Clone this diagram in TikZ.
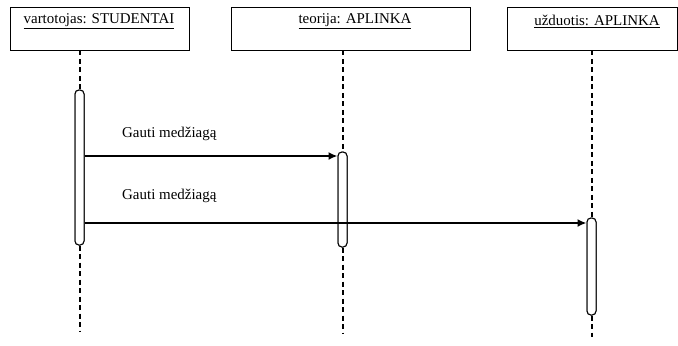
\documentclass[tikz,border=0pt]{standalone}
\usepackage{fontspec}
\setmainfont{Liberation Serif}
\usetikzlibrary{arrows.meta}
\begin{document}
\begin{tikzpicture}[x=1bp,y=-1bp,
  objbox/.style={draw, line width=0.8bp, minimum height=43bp, inner sep=0pt},
  objlabel/.style={inner sep=0pt, font=\fontsize{15}{18}\selectfont},
  msglabel/.style={inner sep=0pt, anchor=west, font=\fontsize{15}{18}\selectfont},
  lifeline/.style={line width=2bp, dash pattern=on 5bp off 3.5bp},
  act/.style={draw, fill=white, line width=1bp, minimum width=9bp, inner sep=0pt, rounded corners=4bp},
  msg/.style={line width=1.8bp, -{Latex[length=9bp,width=8bp]}}]
\useasboundingbox (0,0) rectangle (678,345);

% object boxes with their underlined names
\node[objbox, minimum width=179bp] (b1) at (99.5,28.5) {};
\node[objbox, minimum width=239bp] (b2) at (350.5,28.5) {};
\node[objbox, minimum width=170bp] (b3) at (592,28.5) {};
\node[objlabel] (t1) at (99,21) {\underline{vartotojas: STUDENTAI}};
\node[objlabel] (t2) at (355,21) {\underline{teorija: APLINKA}};
\node[objlabel] (t3) at (597,21) {\underline{užduotis: APLINKA}};

% activation bars
\node[act, minimum height=155bp] (a1) at (79.5,167.5) {};
\node[act, minimum height=95bp] (a2) at (342.5,199.5) {};
\node[act, minimum height=97bp] (a3) at (591.5,266.5) {};

% lifeline ends
\coordinate (e1) at (79.5,332);
\coordinate (e2) at (342.5,333);
\coordinate (e3) at (591.5,337);

% lifelines
\draw[lifeline] (b1.south -| a1) -- (a1.north);
\draw[lifeline] (a1.south) -- (e1);
\draw[lifeline] (b2.south -| a2) -- (a2.north);
\draw[lifeline] (a2.south) -- (e2);
\draw[lifeline] (b3.south -| a3) -- (a3.north);
\draw[lifeline] (a3.south) -- (e3);

% redraw bars over the lifelines
\node[act, minimum height=155bp] at (a1) {};
\node[act, minimum height=95bp] at (a2) {};
\node[act, minimum height=97bp] at (a3) {};

% messages
\coordinate (m1) at (0,156);
\coordinate (m2) at (0,223);
\draw[msg] (a1.east |- m1) -- (a2.west |- m1);
\draw[msg] (a1.east |- m2) -- (a3.west |- m2);
\node[msglabel] (l1) at (122,134) {Gauti medžiagą};
\node[msglabel] (l2) at (122,196) {Gauti medžiagą};
\end{tikzpicture}
\end{document}
